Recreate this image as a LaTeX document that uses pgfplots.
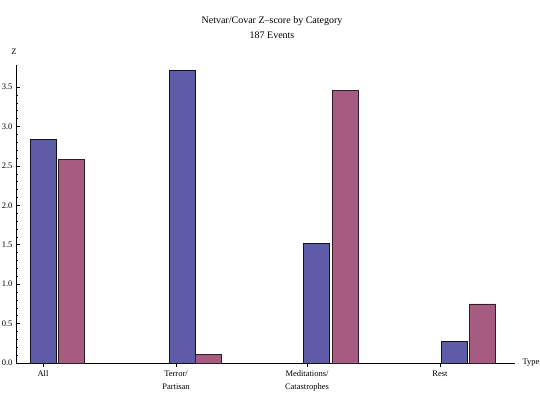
\documentclass[border=0pt]{standalone}
\usepackage{pgfplots}
\pgfplotsset{compat=1.18}
\usepackage{fontspec}
\setmainfont{Liberation Serif}
\definecolor{cblue}{RGB}{94,92,166}
\definecolor{cpink}{RGB}{166,92,128}
\begin{document}
\begin{tikzpicture}[x=1pt,y=1pt]
\useasboundingbox (0,0) rectangle (540,394);
\begin{axis}[
  at={(16pt,31pt)}, anchor=origin,
  scale only axis, width=499pt, height=298pt,
  xmin=16, xmax=515, ymin=0, ymax=3.78,
  axis lines*=left,
  axis line style={line width=0.6pt},
  ytick={0,0.5,...,3.5},
  minor y tick num=4,
  yticklabel style={font=\fontsize{8.5}{9}\selectfont, /pgf/number format/.cd, fixed, fixed zerofill, precision=1},
  /pgf/number format/assume math mode=true,
  xtick={43,176,307,440},
  xticklabels={All,{Terror/\\Partisan},{Meditations/\\Catastrophes},Rest},
  xticklabel style={font=\fontsize{8.5}{13}\selectfont, align=center},
  major tick length=4pt, minor tick length=2pt,
  tick style={black, line width=0.5pt},
  tick align=inside,
  clip=false,
  ybar, bar width=26, bar shift=0pt,
]
\addplot[fill=cblue, draw=black!80!cblue, line width=0.5pt, bar shift=0pt] coordinates {(43.5,2.84) (182,3.71) (316.5,1.52) (454,0.27)};
\addplot[fill=cpink, draw=black!70!cpink, line width=0.5pt, bar shift=0pt] coordinates {(71,2.585) (208,0.11) (345.5,3.46) (482.5,0.75)};
\end{axis}
\node[font=\fontsize{10}{14.5}\selectfont, align=center] at (272,366.5) {Netvar/Covar Z{\textendash}score by Category\\187 Events};
\node[font=\fontsize{8.5}{9}\selectfont] at (14,342) {Z};
\node[font=\fontsize{8.5}{9}\selectfont, anchor=west] at (519,31) {Type};
\end{tikzpicture}
\end{document}
